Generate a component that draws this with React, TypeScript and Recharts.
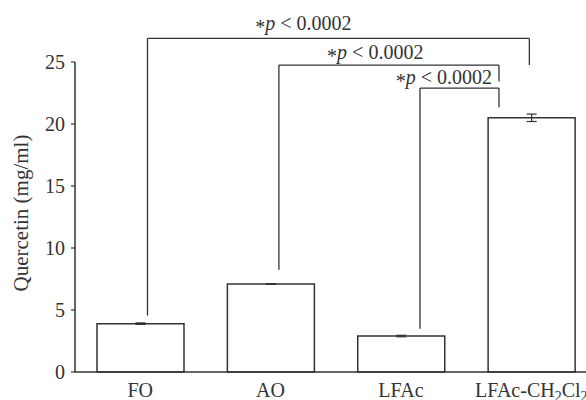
import React from 'react';
import { BarChart, Bar, XAxis, YAxis, ErrorBar, ReferenceLine, ReferenceDot } from 'recharts';

// categories and series
const categories = ['FO', 'AO', 'LFAc', 'LFAc-CH2Cl2'];
const quercetin = [3.9, 7.1, 2.9, 20.5];
const quercetinErr = [0.06, 0.03, 0.06, 0.3];
const yTicks = [0, 5, 10, 15, 20, 25];
const xTicks = [0, 1, 2, 3];

// significance brackets (x in category-index units, y in mg/ml)
const bracketLeftX = [0.056, 1.064, 2.146];
const bracketRightX = [2.985, 2.752, 2.752];
const bracketTopY = [26.9, 24.75, 22.9];
const bracketLeftBottomY = [4.56, 8.24, 3.49];
const bracketRightBottomY = [24.76, 23.42, 21.35];
const pLabelX = [1.252, 1.803, 2.330];
const pLabelY = [27.55, 25.25, 23.25];
const pLabelText = ['0.0002', '0.0002', '0.0002'];

const data = categories.map((name, i) => ({ pos: i, name, value: quercetin[i], err: quercetinErr[i] }));

const INK = '#333';
const FONT = '"Liberation Serif", "DejaVu Serif", serif';

const XTick = (props: any) => {
  const { x, y, payload } = props;
  const v: string = categories[payload.value];
  const common = { textAnchor: 'middle' as const, fill: INK, fontFamily: FONT, fontSize: 20 };
  if (v === 'LFAc-CH2Cl2') {
    return (
      <text x={x} y={y} dy={17} {...common}>
        <tspan>LFAc-CH</tspan>
        <tspan dy={3.5} fontSize={14}>2</tspan>
        <tspan dy={-3.5}>Cl</tspan>
        <tspan dy={3.5} fontSize={14}>2</tspan>
      </text>
    );
  }
  return (
    <text x={x} y={y} dy={17} {...common}>
      {v}
    </text>
  );
};

const makePLabel = (val: string) => (props: any) => (
  <text x={props.cx} y={props.cy} textAnchor="middle" fill={INK} fontFamily={FONT} fontSize={20}>
    <tspan dy={4}>*</tspan>
    <tspan dy={-4} fontStyle="italic">p</tspan>
    <tspan>{' < ' + val}</tspan>
  </text>
);

export default function App() {
  return (
    <div style={{ position: 'fixed', left: 0, top: 0, width: 586, height: 400, overflow: 'hidden', background: '#fff' }}>
      <BarChart
        width={600}
        height={400}
        data={data}
        margin={{ top: 62, right: 3.5, bottom: 4, left: 15 }}
        barSize={87}
      >
        <XAxis
          dataKey="pos"
          type="number"
          domain={[-0.5, 3.5]}
          ticks={xTicks}
          allowDataOverflow
          tick={<XTick />}
          tickLine={false}
          axisLine={{ stroke: INK, strokeWidth: 1.5 }}
          height={24}
          interval={0}
        />
        <YAxis
          domain={[0, 25]}
          ticks={yTicks}
          width={60}
          tickSize={4}
          tickMargin={6}
          axisLine={{ stroke: INK, strokeWidth: 1.5 }}
          tickLine={{ stroke: INK, strokeWidth: 1.2 }}
          tick={{ fill: INK, fontFamily: FONT, fontSize: 20 }}
          label={{
            value: 'Quercetin (mg/ml)',
            angle: -90,
            position: 'insideLeft',
            dx: 1,
            dy: -4,
            style: { textAnchor: 'middle', fill: INK, fontFamily: FONT, fontSize: 21 },
          }}
        />
        <Bar dataKey="value" fill="#fff" stroke={INK} strokeWidth={1.5} isAnimationActive={false}>
          <ErrorBar dataKey="err" width={5} stroke={INK} strokeWidth={1.2} />
        </Bar>
        {bracketLeftX.map((lx, i) => (
          <ReferenceLine
            key={'l' + i}
            ifOverflow="visible"
            stroke={INK}
            strokeWidth={1.3}
            segment={[{ x: lx, y: bracketLeftBottomY[i] }, { x: lx, y: bracketTopY[i] }]}
          />
        ))}
        {bracketLeftX.map((lx, i) => (
          <ReferenceLine
            key={'t' + i}
            ifOverflow="visible"
            stroke={INK}
            strokeWidth={1.3}
            segment={[{ x: lx, y: bracketTopY[i] }, { x: bracketRightX[i], y: bracketTopY[i] }]}
          />
        ))}
        {bracketRightX.map((rx, i) => (
          <ReferenceLine
            key={'r' + i}
            ifOverflow="visible"
            stroke={INK}
            strokeWidth={1.3}
            segment={[{ x: rx, y: bracketTopY[i] }, { x: rx, y: bracketRightBottomY[i] }]}
          />
        ))}
        {pLabelX.map((px, i) => (
          <ReferenceDot
            key={'p' + i}
            x={px}
            y={pLabelY[i]}
            r={0}
            ifOverflow="visible"
            shape={makePLabel(pLabelText[i])}
          />
        ))}
      </BarChart>
    </div>
  );
}
